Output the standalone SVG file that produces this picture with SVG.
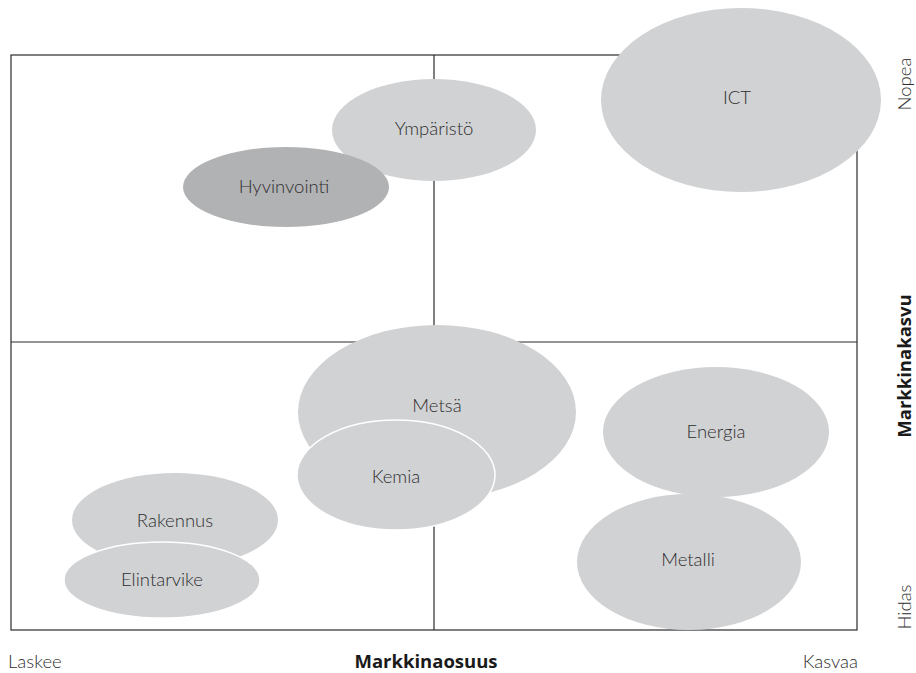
<svg xmlns="http://www.w3.org/2000/svg" width="916" height="673" viewBox="0 0 916 673">
  <style>
    .grid { stroke: #2b2b2b; stroke-width: 1.2; fill: none; }
    .bubble { fill: #d1d2d4; }
    .bubble.dark { fill: #b1b2b4; }
    .bubble.outlined { stroke: #ffffff; stroke-width: 1.5; }
    .label { font-family: Lato, "Open Sans", "Liberation Sans", sans-serif; font-weight: 300; font-size: 18.5px; fill: #2e2e2e; text-anchor: middle; dominant-baseline: central; }
    .axis { font-family: Lato, "Open Sans", "Liberation Sans", sans-serif; font-weight: 300; font-size: 18.5px; fill: #2e2e2e; }
    .axis-title { font-family: "Open Sans", Lato, "Liberation Sans", sans-serif; font-weight: 700; font-size: 18.5px; fill: #1a1a1a; }
  </style>
  <rect width="916" height="673" fill="#ffffff"/>

  <!-- quadrant frame and dividers -->
  <g id="connectors">
    <rect class="grid" x="11" y="55" width="846" height="575"/>
    <line class="grid" x1="434" y1="55" x2="434" y2="630"/>
    <line class="grid" x1="11" y1="342" x2="857" y2="342"/>
  </g>

  <!-- sector bubbles -->
  <g id="ict">
    <ellipse class="bubble" cx="741" cy="100" rx="140" ry="92"/>
    <text class="label" x="737" y="97">ICT</text>
  </g>
  <g id="ymparisto">
    <ellipse class="bubble" cx="434" cy="130" rx="102" ry="51"/>
    <text class="label" x="434" y="128">Ympäristö</text>
  </g>
  <g id="hyvinvointi">
    <ellipse class="bubble dark" cx="286" cy="187" rx="103" ry="40"/>
    <text class="label" x="284" y="186">Hyvinvointi</text>
  </g>
  <g id="metsa">
    <ellipse class="bubble" cx="437" cy="412" rx="139" ry="87"/>
    <text class="label" x="437" y="405">Metsä</text>
  </g>
  <g id="kemia">
    <ellipse class="bubble outlined" cx="396" cy="475" rx="99" ry="55"/>
    <text class="label" x="396" y="476">Kemia</text>
  </g>
  <g id="energia">
    <ellipse class="bubble" cx="716" cy="432" rx="113" ry="65"/>
    <text class="label" x="716" y="431">Energia</text>
  </g>
  <g id="metalli">
    <ellipse class="bubble" cx="689" cy="562" rx="112" ry="68"/>
    <text class="label" x="688" y="559">Metalli</text>
  </g>
  <g id="rakennus">
    <ellipse class="bubble" cx="175" cy="520" rx="103" ry="47"/>
    <text class="label" x="175" y="520">Rakennus</text>
  </g>
  <g id="elintarvike">
    <ellipse class="bubble outlined" cx="162" cy="580" rx="98" ry="38"/>
    <text class="label" x="162" y="579">Elintarvike</text>
  </g>

  <!-- axis labels -->
  <g id="x-axis">
    <text class="axis" x="8" y="668">Laskee</text>
    <text class="axis-title" x="426" y="668" text-anchor="middle">Markkinaosuus</text>
    <text class="axis" x="858" y="668" text-anchor="end">Kasvaa</text>
  </g>
  <g id="y-axis">
    <text class="axis" transform="translate(911 84) rotate(-90)" text-anchor="middle">Nopea</text>
    <text class="axis-title" transform="translate(911 366) rotate(-90)" text-anchor="middle">Markkinakasvu</text>
    <text class="axis" transform="translate(911 607) rotate(-90)" text-anchor="middle">Hidas</text>
  </g>
</svg>
